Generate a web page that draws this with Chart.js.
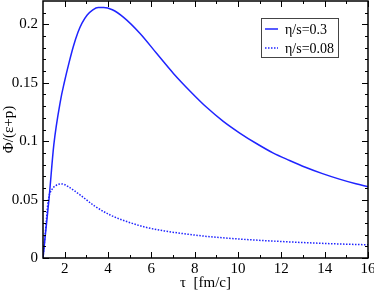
<!DOCTYPE html>
<html>
<head>
<meta charset="utf-8">
<script src="https://cdn.jsdelivr.net/npm/chart.js@4"></script>
<style>
  html, body { margin: 0; padding: 0; background: #fff; }
</style>
</head>
<body>
<canvas id="chart" width="374" height="291"></canvas>
<script>
const tauSolid = [1, 1.12, 1.28, 1.5, 1.81, 1.98, 2.2, 2.4, 2.61, 2.8, 3.04, 3.3, 3.55, 3.8, 4.2, 4.72, 5.49, 6.25, 7.02, 7.78, 8.55, 9.32, 10.08, 10.85, 11.61, 12.38, 13.14, 13.9, 14.68, 15.44, 16];
const phiSolid = [0, 0.022, 0.051, 0.097, 0.135, 0.15, 0.167, 0.181, 0.193, 0.201, 0.208, 0.2125, 0.2145, 0.2145, 0.2125, 0.206, 0.192, 0.175, 0.158, 0.143, 0.129, 0.117, 0.107, 0.098, 0.09, 0.0835, 0.0775, 0.0722, 0.0675, 0.0635, 0.061];

const tauDotted = [1, 1.1, 1.245, 1.4, 1.63, 1.86, 2.17, 2.71, 3.4, 4.1, 4.9, 5.7, 6.6, 7.5, 8.55, 10.08, 11.61, 13.14, 14.68, 16];
const phiDotted = [0, 0.02, 0.0497, 0.0582, 0.0625, 0.0634, 0.061, 0.054, 0.0443, 0.0368, 0.031, 0.0265, 0.0232, 0.0208, 0.0185, 0.0162, 0.0145, 0.0131, 0.012, 0.0113];

const seriesLabels = ['η/s=0.3', 'η/s=0.08'];

const xLabelTicks = [2, 4, 6, 8, 10, 12, 14, 16];
const xMinorTicks = [3, 5, 7, 9, 11, 13, 15];
const yLabelTicks = [0, 0.05, 0.1, 0.15, 0.2];
const yMinorTicks = [0.01, 0.02, 0.03, 0.04, 0.06, 0.07, 0.08, 0.09, 0.11, 0.12, 0.13, 0.14, 0.16, 0.17, 0.18, 0.19, 0.21];

const blue = '#1f24ff';
const serif = 'Liberation Serif';

const toPoints = (xs, ys) => xs.map((x, i) => ({ x, y: ys[i] }));

// inward ticks on all four sides, frame, and the boxed legend
const frameTicks = {
  id: 'frameTicks',
  afterDraw(chart) {
    const { ctx, chartArea: a, scales: { x, y } } = chart;
    ctx.save();
    ctx.strokeStyle = '#000';
    ctx.lineWidth = 1.5;
    ctx.strokeRect(a.left, a.top, a.right - a.left, a.bottom - a.top);

    ctx.lineWidth = 1;
    ctx.beginPath();
    const xTick = (v, len) => {
      const px = Math.round(x.getPixelForValue(v)) + 0.5;
      ctx.moveTo(px, a.bottom); ctx.lineTo(px, a.bottom - len);
      ctx.moveTo(px, a.top); ctx.lineTo(px, a.top + len);
    };
    const yTick = (v, len) => {
      const py = Math.round(y.getPixelForValue(v)) + 0.5;
      ctx.moveTo(a.left, py); ctx.lineTo(a.left + len, py);
      ctx.moveTo(a.right, py); ctx.lineTo(a.right - len, py);
    };
    xLabelTicks.forEach(v => xTick(v, 6));
    xMinorTicks.forEach(v => xTick(v, 3));
    yLabelTicks.forEach(v => yTick(v, 6));
    yMinorTicks.forEach(v => yTick(v, 3));
    ctx.stroke();

    // legend
    const lx = a.right - 108, ly = a.top + 17;
    ctx.strokeStyle = '#444';
    ctx.lineWidth = 1;
    ctx.strokeRect(lx + 1.5, ly + 0.5, 77, 39);
    ctx.font = '14px "' + serif + '", serif';
    ctx.fillStyle = '#000';
    ctx.textBaseline = 'middle';
    chart.data.datasets.forEach((ds, i) => {
      const cy = ly + 11 + i * 19;
      ctx.strokeStyle = ds.borderColor;
      ctx.lineWidth = ds.borderWidth;
      ctx.setLineDash(ds.borderDash || []);
      ctx.beginPath();
      ctx.moveTo(lx + 5, cy);
      ctx.lineTo(lx + 18, cy);
      ctx.stroke();
      ctx.setLineDash([]);
      ctx.fillText(ds.label, lx + 25, cy + 1);
    });
    ctx.restore();
  }
};

new Chart(document.getElementById('chart'), {
  type: 'line',
  data: {
    datasets: [{
      label: seriesLabels[0],
      data: toPoints(tauSolid, phiSolid),
      borderColor: blue,
      borderWidth: 1.5,
      pointRadius: 0,
      cubicInterpolationMode: 'monotone'
    }, {
      label: seriesLabels[1],
      data: toPoints(tauDotted, phiDotted),
      borderColor: blue,
      borderWidth: 1.5,
      borderDash: [1.5, 1.5],
      pointRadius: 0,
      cubicInterpolationMode: 'monotone'
    }]
  },
  options: {
    responsive: false,
    animation: false,
    devicePixelRatio: 1,
    layout: { padding: { left: 0, right: 6, top: 1, bottom: 0 } },
    plugins: { legend: { display: false }, tooltip: { enabled: false } },
    scales: {
      x: {
        type: 'linear',
        min: 1,
        max: 16,
        grid: { display: false, drawTicks: false },
        border: { display: false },
        ticks: { color: '#000', font: { family: serif, size: 15 }, padding: 2, maxRotation: 0, autoSkip: false },
        afterBuildTicks: s => { s.ticks = xLabelTicks.map(v => ({ value: v })); },
        afterFit: s => { s.height = 33; s.paddingLeft = 0; s.paddingRight = 0; },
        title: { display: true, text: 'τ  [fm/c]', color: '#000', font: { family: serif, size: 15 }, padding: { top: 0, bottom: -1 } }
      },
      y: {
        min: 0,
        max: 0.22,
        grid: { display: false, drawTicks: false },
        border: { display: false },
        ticks: { color: '#000', font: { family: serif, size: 15 }, padding: 5, callback: v => String(v) },
        afterBuildTicks: s => { s.ticks = yLabelTicks.map(v => ({ value: v })); },
        afterFit: s => { s.width = 43; s.paddingTop = 0; s.paddingBottom = 0; },
        title: { display: true, text: 'Φ/(ε+p)', color: '#000', font: { family: serif, size: 15 }, padding: 0 }
      }
    }
  },
  plugins: [frameTicks]
});
</script>
</body>
</html>
